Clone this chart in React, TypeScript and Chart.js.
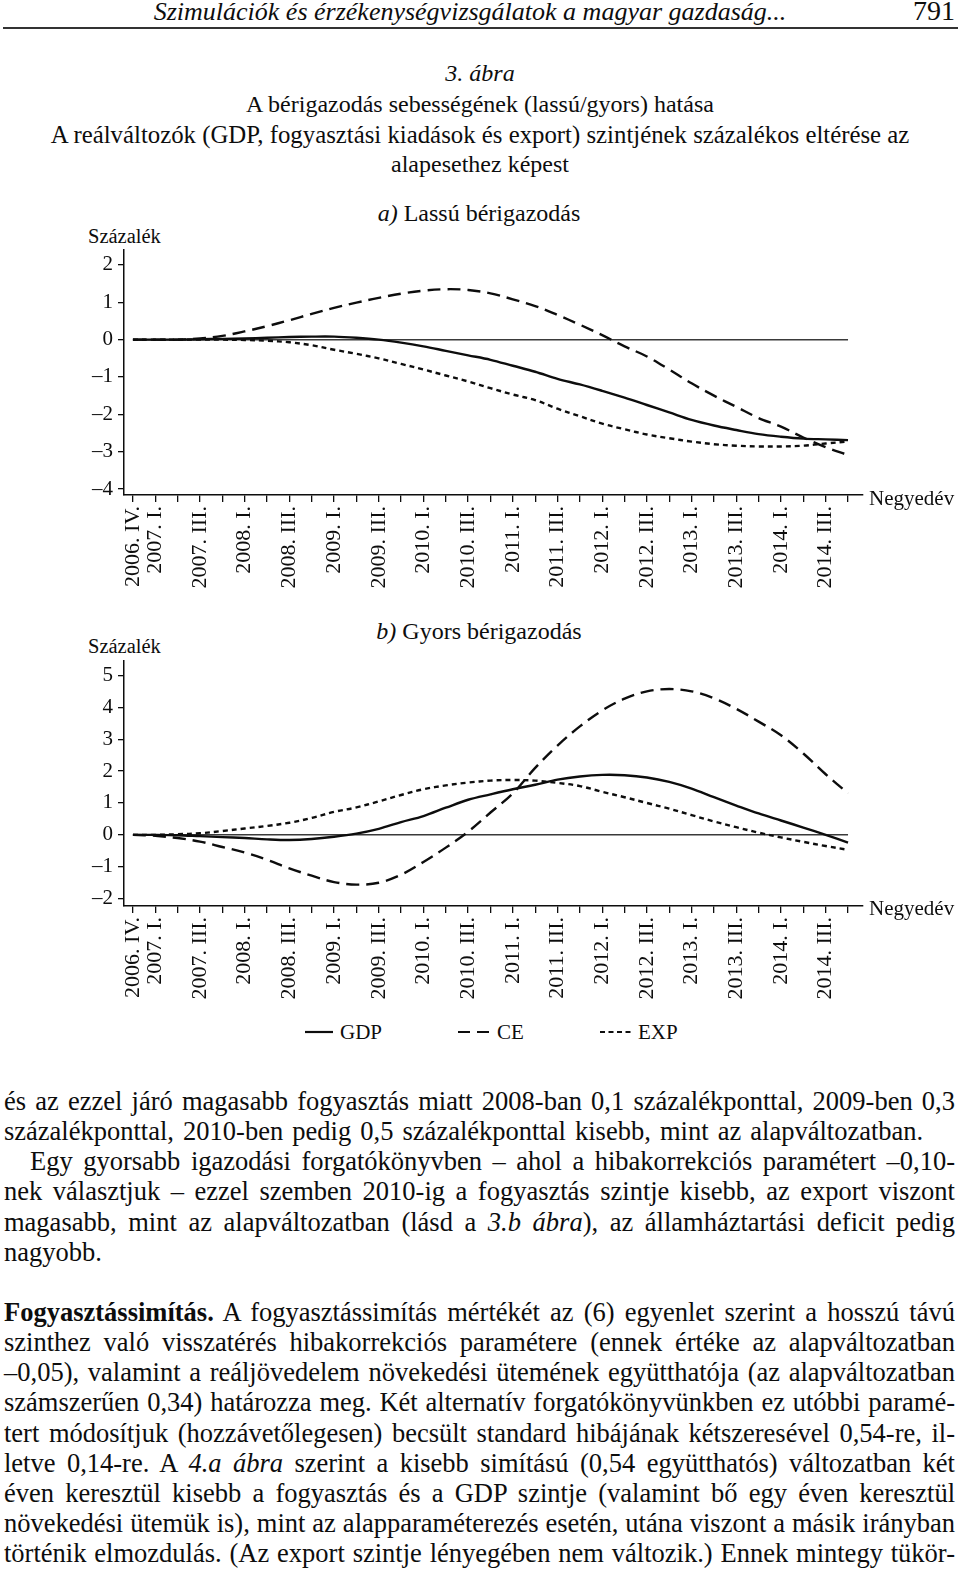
import React, { useEffect, useRef } from "react";
import { Chart, registerables } from "chart.js";

Chart.register(...registerables);

const SERIF = "'Liberation Serif', 'Times New Roman', serif";
const INK = "#0d0d0d";

// Quarters on the x axis (2006 Q4 .. 2014 Q4)
const quarters = [
  "2006. IV.",
  "2007. I.", "2007. II.", "2007. III.", "2007. IV.",
  "2008. I.", "2008. II.", "2008. III.", "2008. IV.",
  "2009. I.", "2009. II.", "2009. III.", "2009. IV.",
  "2010. I.", "2010. II.", "2010. III.", "2010. IV.",
  "2011. I.", "2011. II.", "2011. III.", "2011. IV.",
  "2012. I.", "2012. II.", "2012. III.", "2012. IV.",
  "2013. I.", "2013. II.", "2013. III.", "2013. IV.",
  "2014. I.", "2014. II.", "2014. III.", "2014. IV.",
];

// Tick labels that are printed
const shownTicks = [
  "2006. IV.", "2007. I.", "2007. III.", "2008. I.", "2008. III.",
  "2009. I.", "2009. III.", "2010. I.", "2010. III.", "2011. I.",
  "2011. III.", "2012. I.", "2012. III.", "2013. I.", "2013. III.",
  "2014. I.", "2014. III.",
];

// a) Lassú bérigazodás
const gdpA = [0, 0, 0, 0.01, 0.02, 0.03, 0.05, 0.07, 0.08, 0.08, 0.05, 0.0, -0.08, -0.18, -0.3, -0.42, -0.54, -0.7, -0.86, -1.05, -1.2, -1.37, -1.55, -1.75, -1.95, -2.15, -2.3, -2.42, -2.53, -2.6, -2.65, -2.67, -2.69];
const ceA = [0, 0, 0, 0.03, 0.1, 0.22, 0.36, 0.52, 0.69, 0.85, 0.99, 1.12, 1.23, 1.31, 1.35, 1.33, 1.24, 1.08, 0.9, 0.66, 0.4, 0.12, -0.18, -0.45, -0.8, -1.17, -1.5, -1.8, -2.1, -2.33, -2.62, -2.88, -3.09];
const expA = [0, 0, 0, 0, 0, -0.01, -0.03, -0.07, -0.15, -0.27, -0.38, -0.5, -0.65, -0.8, -0.96, -1.12, -1.3, -1.47, -1.62, -1.85, -2.05, -2.25, -2.4, -2.54, -2.64, -2.73, -2.8, -2.84, -2.86, -2.86, -2.84, -2.78, -2.73];
const yTicksA = [-4, -3, -2, -1, 0, 1, 2];

// b) Gyors bérigazodás
const gdpB = [0, 0, -0.01, -0.04, -0.07, -0.1, -0.14, -0.16, -0.13, -0.06, 0.04, 0.19, 0.4, 0.59, 0.85, 1.1, 1.27, 1.43, 1.57, 1.73, 1.83, 1.88, 1.87, 1.8, 1.66, 1.45, 1.18, 0.92, 0.67, 0.45, 0.23, 0.0, -0.24];
const ceB = [0, -0.03, -0.1, -0.21, -0.38, -0.55, -0.78, -1.05, -1.28, -1.48, -1.56, -1.5, -1.25, -0.85, -0.4, 0.1, 0.7, 1.3, 2.1, 2.8, 3.4, 3.9, 4.27, 4.5, 4.57, 4.5, 4.28, 3.95, 3.55, 3.12, 2.55, 1.9, 1.3];
const expB = [0, 0, 0.02, 0.05, 0.12, 0.2, 0.28, 0.38, 0.53, 0.72, 0.86, 1.05, 1.25, 1.43, 1.55, 1.64, 1.7, 1.72, 1.7, 1.63, 1.53, 1.35, 1.18, 1.0, 0.82, 0.62, 0.42, 0.24, 0.07, -0.08, -0.22, -0.35, -0.47];
const yTicksB = [-2, -1, 0, 1, 2, 3, 4, 5];

const seriesNames = ["GDP", "CE", "EXP"];
const dashes: number[][] = [[], [13, 7], [5, 4]];

const zeroLinePlugin = {
  id: "zeroLine",
  beforeDatasetsDraw(chart: any) {
    const { ctx, scales } = chart;
    const x = scales.x;
    const y = scales.y;
    const y0 = y.getPixelForValue(0);
    ctx.save();
    ctx.strokeStyle = "#3a3a3a";
    ctx.lineWidth = 1.5;
    ctx.beginPath();
    ctx.moveTo(x.getPixelForValue(0), y0);
    ctx.lineTo(x.getPixelForValue(quarters.length - 1), y0);
    ctx.stroke();
    ctx.restore();
  },
};

type ChartProps = {
  top: number;
  height: number;
  padTop: number;
  axisH: number;
  yMin: number;
  yMax: number;
  yTicks: number[];
  series: number[][];
};

function PanelChart({ top, height, padTop, axisH, yMin, yMax, yTicks, series }: ChartProps) {
  const ref = useRef<HTMLCanvasElement>(null);
  useEffect(() => {
    if (!ref.current) return;
    const chart = new Chart(ref.current, {
      type: "line",
      data: {
        datasets: series.map((arr, k) => ({
          label: seriesNames[k],
          data: arr.map((v, i) => ({ x: i, y: v })),
          borderColor: INK,
          borderWidth: 2.4,
          borderDash: dashes[k],
          pointRadius: 0,
          tension: 0.35,
          fill: false,
        })),
      },
      options: {
        animation: false,
        responsive: false,
        maintainAspectRatio: false,
        layout: { padding: { top: padTop, right: 97, left: 0, bottom: 0 } },
        plugins: { legend: { display: false }, tooltip: { enabled: false }, title: { display: false } },
        scales: {
          x: {
            type: "linear",
            min: -0.4,
            max: quarters.length - 1 + 0.67,
            afterBuildTicks: (axis: any) => {
              axis.ticks = quarters.map((_, i) => ({ value: i }));
            },
            afterFit: (s: any) => {
              s.height = axisH;
              s.paddingLeft = 0;
              s.paddingRight = 0;
            },
            ticks: {
              autoSkip: false,
              minRotation: 90,
              maxRotation: 90,
              padding: 4,
              color: INK,
              font: { family: SERIF, size: 22 },
              callback: (v: any) => {
                const q = quarters[Math.round(Number(v))];
                return shownTicks.includes(q) ? q : "";
              },
            },
            grid: { drawOnChartArea: false, drawTicks: true, tickLength: 7, color: INK, lineWidth: 1.3 },
            border: { display: true, color: INK, width: 1.5 },
          },
          y: {
            type: "linear",
            min: yMin,
            max: yMax,
            afterBuildTicks: (axis: any) => {
              axis.ticks = yTicks.map((v) => ({ value: v }));
            },
            afterFit: (s: any) => {
              s.width = 124;
              s.paddingTop = 0;
              s.paddingBottom = 0;
            },
            ticks: {
              padding: 5,
              color: INK,
              font: { family: SERIF, size: 21 },
              callback: (v: any) => (Number(v) < 0 ? "\u2013" + Math.abs(Number(v)) : String(v)),
            },
            grid: { drawOnChartArea: false, drawTicks: true, tickLength: 6, color: INK, lineWidth: 1.3 },
            border: { display: true, color: INK, width: 1.5 },
          },
        },
      } as any,
      plugins: [zeroLinePlugin],
    });
    return () => chart.destroy();
  }, []);
  return (
    <canvas
      ref={ref}
      width={960}
      height={height}
      style={{ position: "absolute", left: 0, top, width: 960, height }}
    />
  );
}

type TProps = {
  baseline: number;
  size: number;
  left?: number;
  width?: number;
  align?: "left" | "center" | "right";
  italic?: boolean;
  bold?: boolean;
  justify?: boolean;
  wordSpacing?: number;
  children?: React.ReactNode;
};

function T({ baseline, size, left = 0, width = 960, align = "left", italic, bold, justify, wordSpacing = 0, children }: TProps) {
  const lh = Math.round(size * 1.2);
  const top = baseline - ((lh - 1.107 * size) / 2 + 0.891 * size);
  return (
    <div
      style={{
        position: "absolute",
        left,
        top,
        width,
        height: lh,
        lineHeight: lh + "px",
        fontSize: size,
        fontFamily: SERIF,
        fontStyle: italic ? "italic" : "normal",
        fontWeight: bold ? "bold" : "normal",
        color: INK,
        wordSpacing,
        textAlign: justify ? "justify" : align,
        textAlignLast: justify ? "justify" : align,
        whiteSpace: "normal",
      } as React.CSSProperties}
    >
      {children}
    </div>
  );
}

const BODY = 26.5;
const bl = (k: number) => 1110 + 30.14 * k;

export default function App() {
  return (
    <div
      style={{
        position: "absolute",
        left: 0,
        top: 0,
        width: 960,
        height: 1571,
        background: "#fff",
        overflow: "hidden",
      }}
    >
      {/* running header */}
      <T baseline={20} size={26} left={0} width={940} align="center" italic>
        Szimulációk és érzékenységvizsgálatok a magyar gazdaság...
      </T>
      <T baseline={20} size={28} left={855} width={100} align="right">
        791
      </T>
      <div style={{ position: "absolute", left: 3, top: 27, width: 955, height: 2, background: "#333" }} />

      {/* figure titles */}
      <T baseline={82} size={24} align="center" italic>
        3. ábra
      </T>
      <T baseline={113} size={24} align="center">
        A bérigazodás sebességének (lassú/gyors) hatása
      </T>
      <T baseline={143} size={24.8} align="center">
        A reálváltozók (GDP, fogyasztási kiadások és export) szintjének százalékos eltérése az
      </T>
      <T baseline={173} size={24} align="center">
        alapesethez képest
      </T>

      {/* panel a */}
      <T baseline={222} size={24} left={0} width={958} align="center">
        <i>a)</i> Lassú bérigazodás
      </T>
      <T baseline={243} size={20.5} left={88} width={200}>
        Százalék
      </T>
      <PanelChart top={240} height={360} padTop={10} axisH={105} yMin={-4.16} yMax={2.4} yTicks={yTicksA} series={[gdpA, ceA, expA]} />
      <T baseline={506} size={21} left={869} width={91}>
        Negyedév
      </T>

      {/* panel b */}
      <T baseline={640} size={24} left={0} width={958} align="center">
        <i>b)</i> Gyors bérigazodás
      </T>
      <T baseline={653} size={20.5} left={88} width={200}>
        Százalék
      </T>
      <PanelChart top={650} height={360} padTop={11} axisH={104} yMin={-2.23} yMax={5.45} yTicks={yTicksB} series={[gdpB, ceB, expB]} />
      <T baseline={916} size={21} left={869} width={91}>
        Negyedév
      </T>

      {/* legend */}
      <svg style={{ position: "absolute", left: 0, top: 1020, width: 960, height: 24 }} width={960} height={24}>
        <line x1={305} y1={12} x2={333} y2={12} stroke={INK} strokeWidth={2.2} />
        <line x1={458} y1={12} x2={489} y2={12} stroke={INK} strokeWidth={2.2} strokeDasharray="12 7" />
        <line x1={600} y1={12} x2={631} y2={12} stroke={INK} strokeWidth={2.2} strokeDasharray="5 3.5" />
      </svg>
      <T baseline={1040} size={21} left={340} width={80}>GDP</T>
      <T baseline={1040} size={21} left={497} width={80}>CE</T>
      <T baseline={1040} size={21} left={638} width={80}>EXP</T>

      {/* body text */}
      <T baseline={bl(0)} size={BODY} left={4} width={951} justify>
        és az ezzel járó magasabb fogyasztás miatt 2008-ban 0,1 százalékponttal, 2009-ben 0,3
      </T>
      <T baseline={bl(1)} size={BODY} left={4} width={951} wordSpacing={2.5}>
        százalékponttal, 2010-ben pedig 0,5 százalékponttal kisebb, mint az alapváltozatban.
      </T>
      <T baseline={bl(2)} size={BODY} left={30} width={925} justify>
        Egy gyorsabb igazodási forgatókönyvben – ahol a hibakorrekciós paramétert –0,10-
      </T>
      <T baseline={bl(3)} size={BODY} left={4} width={951} justify>
        nek választjuk – ezzel szemben 2010-ig a fogyasztás szintje kisebb, az export viszont
      </T>
      <T baseline={bl(4)} size={BODY} left={4} width={951} justify>
        magasabb, mint az alapváltozatban (lásd a <i>3.b ábra</i>), az államháztartási deficit pedig
      </T>
      <T baseline={bl(5)} size={BODY} left={4} width={951}>
        nagyobb.
      </T>
      <T baseline={bl(7)} size={BODY} left={4} width={951} justify>
        <b>Fogyasztássimítás.</b> A fogyasztássimítás mértékét az (6) egyenlet szerint a hosszú távú
      </T>
      <T baseline={bl(8)} size={BODY} left={4} width={951} justify>
        szinthez való visszatérés hibakorrekciós paramétere (ennek értéke az alapváltozatban
      </T>
      <T baseline={bl(9)} size={BODY} left={4} width={951} justify>
        –0,05), valamint a reáljövedelem növekedési ütemének együtthatója (az alapváltozatban
      </T>
      <T baseline={bl(10)} size={BODY} left={4} width={951} justify>
        számszerűen 0,34) határozza meg. Két alternatív forgatókönyvünkben ez utóbbi paramé-
      </T>
      <T baseline={bl(11)} size={BODY} left={4} width={951} justify>
        tert módosítjuk (hozzávetőlegesen) becsült standard hibájának kétszeresével 0,54-re, il-
      </T>
      <T baseline={bl(12)} size={BODY} left={4} width={951} justify>
        letve 0,14-re. A <i>4.a ábra</i> szerint a kisebb simítású (0,54 együtthatós) változatban két
      </T>
      <T baseline={bl(13)} size={BODY} left={4} width={951} justify>
        éven keresztül kisebb a fogyasztás és a GDP szintje (valamint bő egy éven keresztül
      </T>
      <T baseline={bl(14)} size={BODY} left={4} width={951} justify>
        növekedési ütemük is), mint az alapparaméterezés esetén, utána viszont a másik irányban
      </T>
      <T baseline={bl(15)} size={BODY} left={4} width={951} justify>
        történik elmozdulás. (Az export szintje lényegében nem változik.) Ennek mintegy tükör-
      </T>
    </div>
  );
}
